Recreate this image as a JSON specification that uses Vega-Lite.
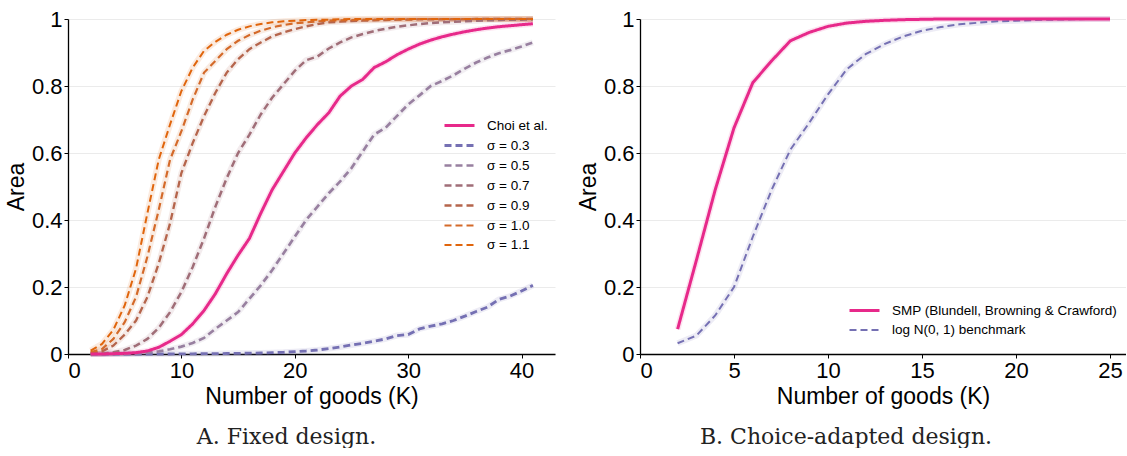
{
"$schema": "https://vega.github.io/schema/vega-lite/v6.json",
"padding": {"left": 5, "top": 7, "right": 0, "bottom": 0},
"autosize": {"type": "pad"},
"background": "white",
"config": {
 "font": "Liberation Sans",
 "view": {"stroke": null},
 "axis": {"labelFont": "Liberation Sans", "titleFont": "Liberation Sans", "labelFontSize": 22, "titleFontSize": 23, "labelColor": "#000", "titleColor": "#000", "domainColor": "#000", "tickColor": "#000", "titleFontWeight": "normal", "gridColor": "#ebebeb", "tickSize": 4, "domainWidth": 1.3, "labelPadding": 2},
 "legend": {"orient": "none", "symbolType": "M-1.5,0H1.5", "symbolSize": 400, "symbolOpacity": 1, "symbolFillColor": "transparent", "labelFont": "Liberation Sans", "labelFontSize": 13.5, "labelColor": "#000", "rowPadding": 2, "labelOffset": 16, "labelLimit": 400},
 "title": {"font": "DejaVu Serif", "fontSize": 22, "fontWeight": "normal", "color": "#222", "orient": "bottom", "anchor": "middle", "frame": "group", "offset": 19},
 "concat": {"spacing": 22}
},
"datasets": {
 "left": [
  {"s":"σ = 0.3","x":2,"y":0},{"s":"σ = 0.3","x":3,"y":0},{"s":"σ = 0.3","x":4,"y":0},{"s":"σ = 0.3","x":5,"y":0},{"s":"σ = 0.3","x":6,"y":0},{"s":"σ = 0.3","x":7,"y":0},{"s":"σ = 0.3","x":8,"y":0},{"s":"σ = 0.3","x":9,"y":0},{"s":"σ = 0.3","x":10,"y":0.0005},{"s":"σ = 0.3","x":11,"y":0.0005},{"s":"σ = 0.3","x":12,"y":0.001},{"s":"σ = 0.3","x":13,"y":0.001},{"s":"σ = 0.3","x":14,"y":0.0015},{"s":"σ = 0.3","x":15,"y":0.002},{"s":"σ = 0.3","x":16,"y":0.0025},{"s":"σ = 0.3","x":17,"y":0.003},{"s":"σ = 0.3","x":18,"y":0.004},{"s":"σ = 0.3","x":19,"y":0.005},{"s":"σ = 0.3","x":20,"y":0.007},{"s":"σ = 0.3","x":21,"y":0.009},{"s":"σ = 0.3","x":22,"y":0.012},{"s":"σ = 0.3","x":23,"y":0.016},{"s":"σ = 0.3","x":24,"y":0.021},{"s":"σ = 0.3","x":25,"y":0.027},{"s":"σ = 0.3","x":26,"y":0.032},{"s":"σ = 0.3","x":27,"y":0.038},{"s":"σ = 0.3","x":28,"y":0.045},{"s":"σ = 0.3","x":29,"y":0.055},{"s":"σ = 0.3","x":30,"y":0.058},{"s":"σ = 0.3","x":31,"y":0.075},{"s":"σ = 0.3","x":32,"y":0.083},{"s":"σ = 0.3","x":33,"y":0.09},{"s":"σ = 0.3","x":34,"y":0.1},{"s":"σ = 0.3","x":35,"y":0.113},{"s":"σ = 0.3","x":36,"y":0.127},{"s":"σ = 0.3","x":37,"y":0.14},{"s":"σ = 0.3","x":38,"y":0.163},{"s":"σ = 0.3","x":39,"y":0.173},{"s":"σ = 0.3","x":40,"y":0.188},{"s":"σ = 0.3","x":41,"y":0.205},
  {"s":"σ = 0.5","x":2,"y":0},{"s":"σ = 0.5","x":3,"y":0},{"s":"σ = 0.5","x":4,"y":0.0005},{"s":"σ = 0.5","x":5,"y":0.001},{"s":"σ = 0.5","x":6,"y":0.002},{"s":"σ = 0.5","x":7,"y":0.004},{"s":"σ = 0.5","x":8,"y":0.008},{"s":"σ = 0.5","x":9,"y":0.014},{"s":"σ = 0.5","x":10,"y":0.022},{"s":"σ = 0.5","x":11,"y":0.033},{"s":"σ = 0.5","x":12,"y":0.048},{"s":"σ = 0.5","x":13,"y":0.075},{"s":"σ = 0.5","x":14,"y":0.1},{"s":"σ = 0.5","x":15,"y":0.125},{"s":"σ = 0.5","x":16,"y":0.165},{"s":"σ = 0.5","x":17,"y":0.205},{"s":"σ = 0.5","x":18,"y":0.25},{"s":"σ = 0.5","x":19,"y":0.3},{"s":"σ = 0.5","x":20,"y":0.35},{"s":"σ = 0.5","x":21,"y":0.4},{"s":"σ = 0.5","x":22,"y":0.44},{"s":"σ = 0.5","x":23,"y":0.48},{"s":"σ = 0.5","x":24,"y":0.515},{"s":"σ = 0.5","x":25,"y":0.555},{"s":"σ = 0.5","x":26,"y":0.605},{"s":"σ = 0.5","x":27,"y":0.655},{"s":"σ = 0.5","x":28,"y":0.675},{"s":"σ = 0.5","x":29,"y":0.71},{"s":"σ = 0.5","x":30,"y":0.745},{"s":"σ = 0.5","x":31,"y":0.772},{"s":"σ = 0.5","x":32,"y":0.8},{"s":"σ = 0.5","x":33,"y":0.815},{"s":"σ = 0.5","x":34,"y":0.832},{"s":"σ = 0.5","x":35,"y":0.852},{"s":"σ = 0.5","x":36,"y":0.87},{"s":"σ = 0.5","x":37,"y":0.885},{"s":"σ = 0.5","x":38,"y":0.898},{"s":"σ = 0.5","x":39,"y":0.907},{"s":"σ = 0.5","x":40,"y":0.918},{"s":"σ = 0.5","x":41,"y":0.93},
  {"s":"σ = 0.7","x":2,"y":0},{"s":"σ = 0.7","x":3,"y":0.001},{"s":"σ = 0.7","x":4,"y":0.005},{"s":"σ = 0.7","x":5,"y":0.012},{"s":"σ = 0.7","x":6,"y":0.025},{"s":"σ = 0.7","x":7,"y":0.045},{"s":"σ = 0.7","x":8,"y":0.078},{"s":"σ = 0.7","x":9,"y":0.125},{"s":"σ = 0.7","x":10,"y":0.185},{"s":"σ = 0.7","x":11,"y":0.26},{"s":"σ = 0.7","x":12,"y":0.345},{"s":"σ = 0.7","x":13,"y":0.44},{"s":"σ = 0.7","x":14,"y":0.525},{"s":"σ = 0.7","x":15,"y":0.6},{"s":"σ = 0.7","x":16,"y":0.655},{"s":"σ = 0.7","x":17,"y":0.715},{"s":"σ = 0.7","x":18,"y":0.765},{"s":"σ = 0.7","x":19,"y":0.805},{"s":"σ = 0.7","x":20,"y":0.845},{"s":"σ = 0.7","x":21,"y":0.877},{"s":"σ = 0.7","x":22,"y":0.888},{"s":"σ = 0.7","x":23,"y":0.912},{"s":"σ = 0.7","x":24,"y":0.93},{"s":"σ = 0.7","x":25,"y":0.945},{"s":"σ = 0.7","x":26,"y":0.955},{"s":"σ = 0.7","x":27,"y":0.964},{"s":"σ = 0.7","x":28,"y":0.971},{"s":"σ = 0.7","x":29,"y":0.977},{"s":"σ = 0.7","x":30,"y":0.981},{"s":"σ = 0.7","x":31,"y":0.985},{"s":"σ = 0.7","x":32,"y":0.988},{"s":"σ = 0.7","x":33,"y":0.99},{"s":"σ = 0.7","x":34,"y":0.992},{"s":"σ = 0.7","x":35,"y":0.993},{"s":"σ = 0.7","x":36,"y":0.995},{"s":"σ = 0.7","x":37,"y":0.996},{"s":"σ = 0.7","x":38,"y":0.997},{"s":"σ = 0.7","x":39,"y":0.998},{"s":"σ = 0.7","x":40,"y":0.998},{"s":"σ = 0.7","x":41,"y":0.999},
  {"s":"σ = 0.9","x":2,"y":0.002},{"s":"σ = 0.9","x":3,"y":0.008},{"s":"σ = 0.9","x":4,"y":0.025},{"s":"σ = 0.9","x":5,"y":0.058},{"s":"σ = 0.9","x":6,"y":0.1},{"s":"σ = 0.9","x":7,"y":0.17},{"s":"σ = 0.9","x":8,"y":0.27},{"s":"σ = 0.9","x":9,"y":0.39},{"s":"σ = 0.9","x":10,"y":0.54},{"s":"σ = 0.9","x":11,"y":0.63},{"s":"σ = 0.9","x":12,"y":0.71},{"s":"σ = 0.9","x":13,"y":0.78},{"s":"σ = 0.9","x":14,"y":0.84},{"s":"σ = 0.9","x":15,"y":0.88},{"s":"σ = 0.9","x":16,"y":0.91},{"s":"σ = 0.9","x":17,"y":0.93},{"s":"σ = 0.9","x":18,"y":0.948},{"s":"σ = 0.9","x":19,"y":0.96},{"s":"σ = 0.9","x":20,"y":0.97},{"s":"σ = 0.9","x":21,"y":0.978},{"s":"σ = 0.9","x":22,"y":0.985},{"s":"σ = 0.9","x":23,"y":0.99},{"s":"σ = 0.9","x":24,"y":0.992},{"s":"σ = 0.9","x":25,"y":0.994},{"s":"σ = 0.9","x":26,"y":0.995},{"s":"σ = 0.9","x":27,"y":0.996},{"s":"σ = 0.9","x":28,"y":0.997},{"s":"σ = 0.9","x":29,"y":0.998},{"s":"σ = 0.9","x":30,"y":0.998},{"s":"σ = 0.9","x":31,"y":0.999},{"s":"σ = 0.9","x":32,"y":0.999},{"s":"σ = 0.9","x":33,"y":0.999},{"s":"σ = 0.9","x":34,"y":0.999},{"s":"σ = 0.9","x":35,"y":0.999},{"s":"σ = 0.9","x":36,"y":1},{"s":"σ = 0.9","x":37,"y":1},{"s":"σ = 0.9","x":38,"y":1},{"s":"σ = 0.9","x":39,"y":1},{"s":"σ = 0.9","x":40,"y":1},{"s":"σ = 0.9","x":41,"y":1},
  {"s":"σ = 1.0","x":2,"y":0.005},{"s":"σ = 1.0","x":3,"y":0.015},{"s":"σ = 1.0","x":4,"y":0.045},{"s":"σ = 1.0","x":5,"y":0.095},{"s":"σ = 1.0","x":6,"y":0.17},{"s":"σ = 1.0","x":7,"y":0.29},{"s":"σ = 1.0","x":8,"y":0.43},{"s":"σ = 1.0","x":9,"y":0.58},{"s":"σ = 1.0","x":10,"y":0.665},{"s":"σ = 1.0","x":11,"y":0.76},{"s":"σ = 1.0","x":12,"y":0.84},{"s":"σ = 1.0","x":13,"y":0.875},{"s":"σ = 1.0","x":14,"y":0.91},{"s":"σ = 1.0","x":15,"y":0.935},{"s":"σ = 1.0","x":16,"y":0.952},{"s":"σ = 1.0","x":17,"y":0.965},{"s":"σ = 1.0","x":18,"y":0.975},{"s":"σ = 1.0","x":19,"y":0.982},{"s":"σ = 1.0","x":20,"y":0.987},{"s":"σ = 1.0","x":21,"y":0.99},{"s":"σ = 1.0","x":22,"y":0.993},{"s":"σ = 1.0","x":23,"y":0.995},{"s":"σ = 1.0","x":24,"y":0.996},{"s":"σ = 1.0","x":25,"y":0.997},{"s":"σ = 1.0","x":26,"y":0.998},{"s":"σ = 1.0","x":27,"y":0.998},{"s":"σ = 1.0","x":28,"y":0.999},{"s":"σ = 1.0","x":29,"y":0.999},{"s":"σ = 1.0","x":30,"y":0.999},{"s":"σ = 1.0","x":31,"y":1},{"s":"σ = 1.0","x":32,"y":1},{"s":"σ = 1.0","x":33,"y":1},{"s":"σ = 1.0","x":34,"y":1},{"s":"σ = 1.0","x":35,"y":1},{"s":"σ = 1.0","x":36,"y":1},{"s":"σ = 1.0","x":37,"y":1},{"s":"σ = 1.0","x":38,"y":1},{"s":"σ = 1.0","x":39,"y":1},{"s":"σ = 1.0","x":40,"y":1},{"s":"σ = 1.0","x":41,"y":1},
  {"s":"σ = 1.1","x":2,"y":0.01},{"s":"σ = 1.1","x":3,"y":0.03},{"s":"σ = 1.1","x":4,"y":0.072},{"s":"σ = 1.1","x":5,"y":0.145},{"s":"σ = 1.1","x":6,"y":0.255},{"s":"σ = 1.1","x":7,"y":0.42},{"s":"σ = 1.1","x":8,"y":0.58},{"s":"σ = 1.1","x":9,"y":0.685},{"s":"σ = 1.1","x":10,"y":0.785},{"s":"σ = 1.1","x":11,"y":0.855},{"s":"σ = 1.1","x":12,"y":0.905},{"s":"σ = 1.1","x":13,"y":0.932},{"s":"σ = 1.1","x":14,"y":0.953},{"s":"σ = 1.1","x":15,"y":0.968},{"s":"σ = 1.1","x":16,"y":0.978},{"s":"σ = 1.1","x":17,"y":0.985},{"s":"σ = 1.1","x":18,"y":0.99},{"s":"σ = 1.1","x":19,"y":0.993},{"s":"σ = 1.1","x":20,"y":0.995},{"s":"σ = 1.1","x":21,"y":0.997},{"s":"σ = 1.1","x":22,"y":0.998},{"s":"σ = 1.1","x":23,"y":0.998},{"s":"σ = 1.1","x":24,"y":0.999},{"s":"σ = 1.1","x":25,"y":1},{"s":"σ = 1.1","x":26,"y":1},{"s":"σ = 1.1","x":27,"y":1},{"s":"σ = 1.1","x":28,"y":1},{"s":"σ = 1.1","x":29,"y":1},{"s":"σ = 1.1","x":30,"y":1},{"s":"σ = 1.1","x":31,"y":1},{"s":"σ = 1.1","x":32,"y":1},{"s":"σ = 1.1","x":33,"y":1},{"s":"σ = 1.1","x":34,"y":1},{"s":"σ = 1.1","x":35,"y":1},{"s":"σ = 1.1","x":36,"y":1},{"s":"σ = 1.1","x":37,"y":1},{"s":"σ = 1.1","x":38,"y":1},{"s":"σ = 1.1","x":39,"y":1},{"s":"σ = 1.1","x":40,"y":1},{"s":"σ = 1.1","x":41,"y":1},
  {"s":"Choi et al.","x":2,"y":0},{"s":"Choi et al.","x":3,"y":0},{"s":"Choi et al.","x":4,"y":0.001},{"s":"Choi et al.","x":5,"y":0.002},{"s":"Choi et al.","x":6,"y":0.004},{"s":"Choi et al.","x":7,"y":0.009},{"s":"Choi et al.","x":8,"y":0.02},{"s":"Choi et al.","x":9,"y":0.038},{"s":"Choi et al.","x":10,"y":0.058},{"s":"Choi et al.","x":11,"y":0.09},{"s":"Choi et al.","x":12,"y":0.13},{"s":"Choi et al.","x":13,"y":0.18},{"s":"Choi et al.","x":14,"y":0.24},{"s":"Choi et al.","x":15,"y":0.295},{"s":"Choi et al.","x":16,"y":0.345},{"s":"Choi et al.","x":17,"y":0.42},{"s":"Choi et al.","x":18,"y":0.49},{"s":"Choi et al.","x":19,"y":0.545},{"s":"Choi et al.","x":20,"y":0.6},{"s":"Choi et al.","x":21,"y":0.645},{"s":"Choi et al.","x":22,"y":0.685},{"s":"Choi et al.","x":23,"y":0.72},{"s":"Choi et al.","x":24,"y":0.77},{"s":"Choi et al.","x":25,"y":0.8},{"s":"Choi et al.","x":26,"y":0.82},{"s":"Choi et al.","x":27,"y":0.855},{"s":"Choi et al.","x":28,"y":0.872},{"s":"Choi et al.","x":29,"y":0.893},{"s":"Choi et al.","x":30,"y":0.91},{"s":"Choi et al.","x":31,"y":0.925},{"s":"Choi et al.","x":32,"y":0.937},{"s":"Choi et al.","x":33,"y":0.947},{"s":"Choi et al.","x":34,"y":0.955},{"s":"Choi et al.","x":35,"y":0.962},{"s":"Choi et al.","x":36,"y":0.968},{"s":"Choi et al.","x":37,"y":0.973},{"s":"Choi et al.","x":38,"y":0.977},{"s":"Choi et al.","x":39,"y":0.98},{"s":"Choi et al.","x":40,"y":0.983},{"s":"Choi et al.","x":41,"y":0.986}
 ],
 "right": [
  {"s":"log N(0, 1) benchmark","x":2,"y":0.032},{"s":"log N(0, 1) benchmark","x":3,"y":0.055},{"s":"log N(0, 1) benchmark","x":4,"y":0.115},{"s":"log N(0, 1) benchmark","x":5,"y":0.2},{"s":"log N(0, 1) benchmark","x":6,"y":0.35},{"s":"log N(0, 1) benchmark","x":7,"y":0.49},{"s":"log N(0, 1) benchmark","x":8,"y":0.61},{"s":"log N(0, 1) benchmark","x":9,"y":0.69},{"s":"log N(0, 1) benchmark","x":10,"y":0.775},{"s":"log N(0, 1) benchmark","x":11,"y":0.85},{"s":"log N(0, 1) benchmark","x":12,"y":0.895},{"s":"log N(0, 1) benchmark","x":13,"y":0.925},{"s":"log N(0, 1) benchmark","x":14,"y":0.948},{"s":"log N(0, 1) benchmark","x":15,"y":0.965},{"s":"log N(0, 1) benchmark","x":16,"y":0.976},{"s":"log N(0, 1) benchmark","x":17,"y":0.984},{"s":"log N(0, 1) benchmark","x":18,"y":0.989},{"s":"log N(0, 1) benchmark","x":19,"y":0.993},{"s":"log N(0, 1) benchmark","x":20,"y":0.995},{"s":"log N(0, 1) benchmark","x":21,"y":0.997},{"s":"log N(0, 1) benchmark","x":22,"y":0.998},{"s":"log N(0, 1) benchmark","x":23,"y":0.999},{"s":"log N(0, 1) benchmark","x":24,"y":1},{"s":"log N(0, 1) benchmark","x":25,"y":1},
  {"s":"SMP (Blundell, Browning & Crawford)","x":2,"y":0.074},{"s":"SMP (Blundell, Browning & Crawford)","x":3,"y":0.28},{"s":"SMP (Blundell, Browning & Crawford)","x":4,"y":0.49},{"s":"SMP (Blundell, Browning & Crawford)","x":5,"y":0.675},{"s":"SMP (Blundell, Browning & Crawford)","x":6,"y":0.81},{"s":"SMP (Blundell, Browning & Crawford)","x":7,"y":0.875},{"s":"SMP (Blundell, Browning & Crawford)","x":8,"y":0.935},{"s":"SMP (Blundell, Browning & Crawford)","x":9,"y":0.96},{"s":"SMP (Blundell, Browning & Crawford)","x":10,"y":0.978},{"s":"SMP (Blundell, Browning & Crawford)","x":11,"y":0.988},{"s":"SMP (Blundell, Browning & Crawford)","x":12,"y":0.993},{"s":"SMP (Blundell, Browning & Crawford)","x":13,"y":0.996},{"s":"SMP (Blundell, Browning & Crawford)","x":14,"y":0.998},{"s":"SMP (Blundell, Browning & Crawford)","x":15,"y":0.999},{"s":"SMP (Blundell, Browning & Crawford)","x":16,"y":1},{"s":"SMP (Blundell, Browning & Crawford)","x":17,"y":1},{"s":"SMP (Blundell, Browning & Crawford)","x":18,"y":1},{"s":"SMP (Blundell, Browning & Crawford)","x":19,"y":1},{"s":"SMP (Blundell, Browning & Crawford)","x":20,"y":1},{"s":"SMP (Blundell, Browning & Crawford)","x":21,"y":1},{"s":"SMP (Blundell, Browning & Crawford)","x":22,"y":1},{"s":"SMP (Blundell, Browning & Crawford)","x":23,"y":1},{"s":"SMP (Blundell, Browning & Crawford)","x":24,"y":1},{"s":"SMP (Blundell, Browning & Crawford)","x":25,"y":1}
 ]
},
"hconcat": [
 {
  "width": 487, "height": 335,
  "title": {"text": "A. Fixed design.", "dx": -25},
  "data": {"name": "left"},
  "encoding": {
   "x": {"field": "x", "type": "quantitative", "scale": {"domain": [0, 42.95], "nice": false, "zero": false}, "axis": {"values": [0, 10, 20, 30, 40], "title": "Number of goods (K)", "grid": false}},
   "y": {"field": "y", "type": "quantitative", "scale": {"domain": [0, 1], "nice": false}, "axis": {"values": [0, 0.2, 0.4, 0.6, 0.8, 1], "labelExpr": "datum.value == 0 ? '0' : datum.value == 1 ? '1' : format(datum.value, '.1f')", "title": "Area", "grid": true, "titlePadding": 3}},
   "color": {"field": "s", "type": "nominal", "scale": {"domain": ["Choi et al.", "σ = 0.3", "σ = 0.5", "σ = 0.7", "σ = 0.9", "σ = 1.0", "σ = 1.1"], "range": ["#e7298a", "#7570b3", "#9880a0", "#a06e78", "#b5654c", "#d46a2a", "#e0650c"]}, "legend": {"title": null, "legendX": 380, "legendY": 95}}
  },
  "layer": [
   {"mark": {"type": "line", "strokeWidth": 6, "opacity": 0.13}},
   {"mark": {"type": "line"},
    "encoding": {
     "strokeDash": {"field": "s", "type": "nominal", "scale": {"domain": ["Choi et al.", "σ = 0.3", "σ = 0.5", "σ = 0.7", "σ = 0.9", "σ = 1.0", "σ = 1.1"], "range": [[1, 0], [7, 4], [7, 4], [7, 4], [7, 4], [7, 4], [7, 4]]}, "legend": {"title": null, "legendX": 380, "legendY": 95}},
     "strokeWidth": {"field": "s", "type": "nominal", "scale": {"domain": ["Choi et al.", "σ = 0.3", "σ = 0.5", "σ = 0.7", "σ = 0.9", "σ = 1.0", "σ = 1.1"], "range": [3, 2, 2, 2, 2, 2, 2]}, "legend": {"title": null, "legendX": 380, "legendY": 95}}
    }}
  ]
 },
 {
  "width": 486, "height": 335,
  "title": {"text": "B. Choice-adapted design.", "dx": -37},
  "data": {"name": "right"},
  "encoding": {
   "x": {"field": "x", "type": "quantitative", "scale": {"domain": [0, 25.85], "nice": false, "zero": false}, "axis": {"values": [0, 5, 10, 15, 20, 25], "title": "Number of goods (K)", "grid": false}},
   "y": {"field": "y", "type": "quantitative", "scale": {"domain": [0, 1], "nice": false}, "axis": {"values": [0, 0.2, 0.4, 0.6, 0.8, 1], "labelExpr": "datum.value == 0 ? '0' : datum.value == 1 ? '1' : format(datum.value, '.1f')", "title": "Area", "grid": true, "titlePadding": 3}},
   "color": {"field": "s", "type": "nominal", "scale": {"domain": ["SMP (Blundell, Browning & Crawford)", "log N(0, 1) benchmark"], "range": ["#e7298a", "#7570b3"]}, "legend": {"title": null, "legendX": 213, "legendY": 280}}
  },
  "layer": [
   {"mark": {"type": "line", "strokeWidth": 6, "opacity": 0.13}},
   {"mark": {"type": "line"},
    "encoding": {
     "strokeDash": {"field": "s", "type": "nominal", "scale": {"domain": ["SMP (Blundell, Browning & Crawford)", "log N(0, 1) benchmark"], "range": [[1, 0], [7, 4]]}, "legend": {"title": null, "legendX": 213, "legendY": 280}},
     "strokeWidth": {"field": "s", "type": "nominal", "scale": {"domain": ["SMP (Blundell, Browning & Crawford)", "log N(0, 1) benchmark"], "range": [3, 2]}, "legend": {"title": null, "legendX": 213, "legendY": 280}}
    }}
  ]
 }
],
"resolve": {"scale": {"color": "independent", "strokeDash": "independent", "strokeWidth": "independent", "x": "independent", "y": "independent"}, "legend": {"color": "independent", "strokeDash": "independent", "strokeWidth": "independent"}}
}
